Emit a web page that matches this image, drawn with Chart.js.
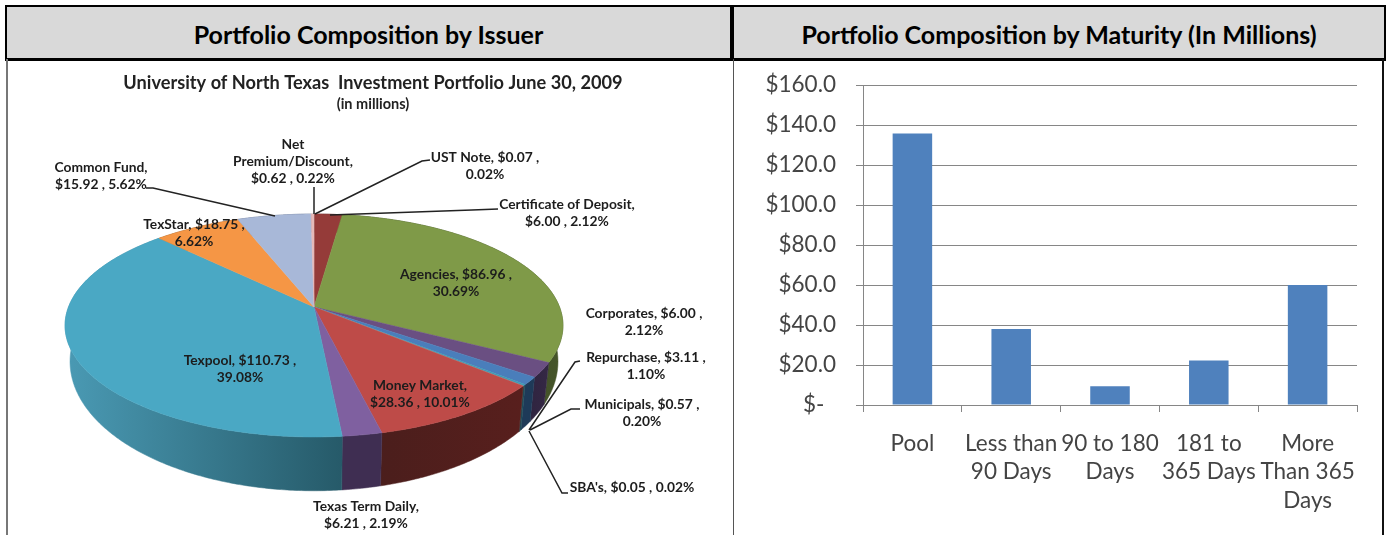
<!DOCTYPE html>
<html lang="en">
    <head>
        <meta charset="UTF-8" />
        <title>Portfolio Composition</title>
        <script src="https://cdn.jsdelivr.net/npm/chart.js"></script>
        <style>
            html, body { margin: 0; padding: 0; background: #fff; overflow: hidden; }
            body { width: 1387px; height: 535px; position: relative; font-family: Lato, sans-serif; }
            .head {
                position: absolute; top: 5px; height: 51px; line-height: 55px;
                background: #d9d9d9; border: 2px solid #000; border-bottom-width: 3px;
                text-align: center; font-weight: 700; font-size: 25px; color: #000;
            }
            .rule { position: absolute; top: 59px; height: 476px; }
            canvas { position: absolute; top: 60px; }
        </style>
    </head>
    <body>
        <div class="head" style="left: 5px; width: 723px">Portfolio Composition by Issuer</div>
        <div class="head" style="left: 732px; width: 650px">Portfolio Composition by Maturity (In Millions)</div>
        <div class="rule" style="left: 6px; width: 2px; background: #777"></div>
        <div class="rule" style="left: 733px; width: 1px; background: #555"></div>
        <div class="rule" style="left: 1382px; width: 2px; background: #111"></div>
        <canvas id="issuer" style="left: 8px" width="730" height="475"></canvas>
        <canvas id="maturity" style="left: 735px" width="646" height="475"></canvas>

        <script>
            // Issuer slices, clockwise from 12 o'clock
            const issuerNames = [
                "UST Note", "Certificate of Deposit", "Agencies", "Corporates", "Repurchase", "Municipals", "SBA's",
                "Money Market", "Texas Term Daily", "Texpool", "TexStar", "Common Fund", "Net Premium/Discount",
            ];
            const issuerValues = [0.07, 6.0, 86.96, 6.0, 3.11, 0.57, 0.05, 28.36, 6.21, 110.73, 18.75, 15.92, 0.62];
            const issuerColors = [
                "#8a8a8a", "#953b39", "#7f9a48", "#6a4f82", "#4a7ebb", "#3f9ab5", "#a0a0a0",
                "#be4b48", "#7f60a0", "#4aa8c4", "#f59645", "#a8b8d8", "#e6b9b8",
            ];
            const issuerSides = [
                ["#444", "#444"], ["#4a1d1c", "#4a1d1c"], ["#2f3a1b", "#46552a"], ["#2f2440", "#352845"],
                ["#1e3a58", "#1e3a58"], ["#1e4a58", "#1e4a58"], ["#444", "#444"],
                ["#4b1e1c", "#581f1d"], ["#3f2e52", "#3f2e52"], ["#4a9ab4", "#265a69"],
                ["#7a4a20", "#7a4a20"], ["#54607a", "#54607a"], ["#705a5a", "#705a5a"],
            ];

            // Maturity bars
            const maturityLabels = [
                "Pool", ["Less than", "90 Days"], ["90 to 180", "Days"], ["181 to", "365 Days"], ["More", "Than 365", "Days"],
            ];
            const maturityValues = [135.7, 38, 9.4, 22.3, 60];

            // Text of the callouts around the pie
            const calloutText = [
                ["UST Note, $0.07 ,", "0.02%"],
                ["Certificate of Deposit,", "$6.00 , 2.12%"],
                ["Agencies, $86.96 ,", "30.69%"],
                ["Corporates, $6.00 ,", "2.12%"],
                ["Repurchase, $3.11 ,", "1.10%"],
                ["Municipals, $0.57 ,", "0.20%"],
                ["SBA's, $0.05 , 0.02%"],
                ["Money Market,", "$28.36 , 10.01%"],
                ["Texas Term Daily,", "$6.21 , 2.19%"],
                ["Texpool, $110.73 ,", "39.08%"],
                ["TexStar, $18.75 ,", "6.62%"],
                ["Common Fund,", "$15.92 , 5.62%"],
                ["Net", "Premium/Discount,", "$0.62 , 0.22%"],
            ];
            // [centre x, first line y] in page pixels, same order as above
            const calloutAt = [
                [485, 158], [567, 205], [456, 275], [644, 314], [646, 358], [642, 405], [632, 488],
                [420, 386], [366, 507], [240, 361], [194, 225], [101, 168], [293, 145],
            ];
            const leaderLines = [
                [[430, 160], [422, 161], [315, 214]],
                [[498, 209], [472, 210], [330, 215]],
                [[580, 361], [575, 362], [529, 430]],
                [[580, 409], [571, 409], [530, 430]],
                [[568, 493], [562, 493], [529, 431]],
                [[146, 188], [153, 188], [275, 216]],
                [[314, 187], [314, 214]],
            ];

            // Tilted disc: maps a point of the unit circle to page pixels
            const tilt = { x: 314, y: 307, a: 245.5, b: 108.4, k: 0.166 };
            function topFace(u, v) {
                const w = 1 - tilt.k * v;
                return [tilt.x + (tilt.a * u) / w, tilt.y + (tilt.b * v) / w];
            }
            function bottomFace(u, v) {
                const p = topFace(u, v);
                return [tilt.x + (p[0] - tilt.x) * 0.98, tilt.y + 33 + (p[1] - tilt.y) * 1.16];
            }

            const pie3d = {
                id: "pie3d",
                beforeDatasetsDraw(chart) {
                    const c = chart.ctx;
                    const box = chart.canvas.getBoundingClientRect();
                    const arcs = chart.getDatasetMeta(0).data;
                    c.save();
                    c.translate(-box.left, -box.top);

                    // walls first, the top face then hides the back ones
                    arcs.forEach((arc, i) => {
                        const top = [];
                        const bottom = [];
                        const steps = Math.max(2, Math.ceil((arc.endAngle - arc.startAngle) / 0.01));
                        for (let s = 0; s <= steps; s++) {
                            const t = arc.startAngle + ((arc.endAngle - arc.startAngle) * s) / steps;
                            top.push(topFace(Math.cos(t), Math.sin(t)));
                            bottom.push(bottomFace(Math.cos(t), Math.sin(t)));
                        }
                        const xs = top.concat(bottom).map((p) => p[0]);
                        const g = c.createLinearGradient(Math.min(...xs), 0, Math.max(...xs), 0);
                        g.addColorStop(0, issuerSides[i][0]);
                        g.addColorStop(1, issuerSides[i][1]);
                        c.fillStyle = g;
                        c.strokeStyle = g;
                        c.lineWidth = 0.5;
                        c.beginPath();
                        top.forEach((p) => c.lineTo(p[0], p[1]));
                        bottom.reverse().forEach((p) => c.lineTo(p[0], p[1]));
                        c.closePath();
                        c.fill();
                        c.stroke();
                    });

                    arcs.forEach((arc) => {
                        c.fillStyle = arc.options.backgroundColor;
                        c.strokeStyle = arc.options.backgroundColor;
                        c.lineWidth = 0.5;
                        c.beginPath();
                        c.moveTo(tilt.x, tilt.y);
                        const steps = Math.max(2, Math.ceil((arc.endAngle - arc.startAngle) / 0.01));
                        for (let s = 0; s <= steps; s++) {
                            const t = arc.startAngle + ((arc.endAngle - arc.startAngle) * s) / steps;
                            const p = topFace(Math.cos(t), Math.sin(t));
                            c.lineTo(p[0], p[1]);
                        }
                        c.closePath();
                        c.fill();
                        c.stroke();
                    });

                    // leader lines and callouts
                    c.strokeStyle = "#222";
                    c.lineWidth = 1.5;
                    leaderLines.forEach((line) => {
                        c.beginPath();
                        line.forEach((p) => c.lineTo(p[0], p[1]));
                        c.stroke();
                    });
                    c.fillStyle = "#1c1c1c";
                    c.font = "700 13.8px Lato";
                    c.textAlign = "center";
                    c.textBaseline = "middle";
                    calloutText.forEach((lines, i) => {
                        lines.forEach((line, n) => {
                            c.fillText(line, calloutAt[i][0], calloutAt[i][1] + n * 17);
                        });
                    });
                    c.restore();
                    return false;
                },
            };

            new Chart(document.getElementById("issuer"), {
                type: "pie",
                data: {
                    labels: issuerNames,
                    datasets: [{ data: issuerValues, backgroundColor: issuerColors, borderWidth: 0 }],
                },
                plugins: [pie3d],
                options: {
                    responsive: false,
                    animation: false,
                    plugins: {
                        legend: { display: false },
                        tooltip: { enabled: false },
                        title: {
                            display: true,
                            text: "University of North Texas  Investment Portfolio June 30, 2009",
                            color: "#222",
                            font: { family: "Lato", size: 18.2, weight: "700" },
                            padding: { top: 12, bottom: 2 },
                        },
                        subtitle: {
                            display: true,
                            text: "(in millions)",
                            color: "#222",
                            font: { family: "Lato", size: 14.5, weight: "700" },
                        },
                    },
                },
            });

            new Chart(document.getElementById("maturity"), {
                type: "bar",
                data: {
                    labels: maturityLabels,
                    datasets: [
                        {
                            data: maturityValues,
                            backgroundColor: "#4f81bd",
                            categoryPercentage: 1,
                            barPercentage: 0.4,
                        },
                    ],
                },
                options: {
                    responsive: false,
                    animation: false,
                    layout: { padding: { top: 25, right: 24 } },
                    plugins: { legend: { display: false }, tooltip: { enabled: false } },
                    scales: {
                        x: {
                            afterFit(scale) {
                                scale.height = 130;
                            },
                            grid: { drawOnChartArea: false, color: "#868686", tickLength: 7 },
                            border: { color: "#868686" },
                            ticks: {
                                autoSkip: false,
                                maxRotation: 0,
                                padding: 17,
                                color: "#444",
                                font: { family: "Lato", size: 22.5, lineHeight: 1.27 },
                            },
                        },
                        y: {
                            min: 0,
                            max: 160,
                            afterFit(scale) {
                                // tick padding would otherwise push the plot top down
                                scale.width = 128;
                                scale.paddingTop = 0;
                                scale.paddingBottom = 0;
                            },
                            grid: { color: "#868686", tickLength: 7 },
                            border: { color: "#868686" },
                            ticks: {
                                stepSize: 20,
                                padding: 20,
                                color: "#444",
                                font: { family: "Lato", size: 22.5 },
                                // the zero label keeps the accounting format's gap on its right
                                callback: (v) => (v === 0 ? "$-  " : "$" + v.toFixed(1)),
                            },
                        },
                    },
                },
            });
        </script>
    </body>
</html>
